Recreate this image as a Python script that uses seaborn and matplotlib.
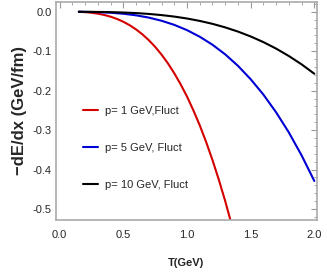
import pandas as pd
import matplotlib.pyplot as plt
import seaborn as sns
from matplotlib.ticker import MultipleLocator, FormatStrFormatter

# temperature grid (GeV) and energy loss for each momentum
T_red = [0.15, 0.2, 0.25, 0.3, 0.35, 0.4, 0.45, 0.5, 0.55, 0.6, 0.65, 0.7,
         0.75, 0.8, 0.85, 0.9, 0.95, 1.0, 1.05, 1.1, 1.15, 1.2, 1.25, 1.3,
         1.35, 1.4]
loss_p1 = [0.0, -0.001, -0.0025, -0.0048, -0.0081, -0.0125, -0.0182, -0.0254,
           -0.0342, -0.0448, -0.0574, -0.0721, -0.0891, -0.1087, -0.1309,
           -0.156, -0.184, -0.215, -0.250, -0.288, -0.330, -0.376, -0.426,
           -0.480, -0.539, -0.602]

T_all = [0.15, 0.2, 0.3, 0.4, 0.5, 0.6, 0.7, 0.8, 0.9, 1.0, 1.1, 1.2, 1.3,
         1.4, 1.5, 1.6, 1.7, 1.8, 1.9, 2.0]
loss_p5 = [0.0, -0.0003, -0.0009, -0.0024, -0.005, -0.009, -0.0148, -0.0228,
           -0.0332, -0.0466, -0.0633, -0.0836, -0.108, -0.137, -0.171, -0.210,
           -0.255, -0.306, -0.364, -0.429]
loss_p10 = [0.0, -0.0001, -0.0004, -0.0009, -0.0019, -0.0033, -0.0055, -0.0084,
            -0.0122, -0.0171, -0.0232, -0.0306, -0.0396, -0.0502, -0.0626,
            -0.0769, -0.0934, -0.1122, -0.1333, -0.1571]

labels = ["p= 1 GeV,Fluct", "p= 5 GeV, Fluct", "p= 10 GeV, Fluct"]
colors = ["#d40000", "#0000d4", "#000000"]

sns.set_style("white")
plt.rcParams['font.family'] = ['Liberation Sans', 'DejaVu Sans']

fig = plt.figure(figsize=(3.27, 2.73), dpi=100)
ax = fig.add_axes([0.171, 0.194, 0.798, 0.799])

sns.lineplot(x=T_red, y=loss_p1, color=colors[0], lw=1.5, label=labels[0], ax=ax)
sns.lineplot(x=T_all, y=loss_p5, color=colors[1], lw=1.5, label=labels[1], ax=ax)
sns.lineplot(x=T_all, y=loss_p10, color=colors[2], lw=1.5, label=labels[2], ax=ax)

ax.set_xlim(-0.03, 2.02)
ax.set_ylim(-0.528, 0.025)

# mathematica-like frame: gray, ticks inside on every side
for s in ax.spines.values():
    s.set_color("#aaaaaa")
    s.set_linewidth(1.2)
ax.xaxis.set_major_locator(MultipleLocator(0.5))
ax.xaxis.set_minor_locator(MultipleLocator(0.1))
ax.yaxis.set_major_locator(MultipleLocator(0.1))
ax.yaxis.set_minor_locator(MultipleLocator(0.02))
ax.xaxis.set_major_formatter(FormatStrFormatter("%.1f"))
ax.yaxis.set_major_formatter(FormatStrFormatter("%.1f"))
ax.tick_params(which="both", direction="in", top=True, right=True,
               color="#999999", labelsize=8)
ax.tick_params(axis="x", pad=7)
ax.tick_params(axis="y", pad=3)
ax.tick_params(which="major", length=4)
ax.tick_params(which="minor", length=2)

ax.set_xlabel("T(GeV)", fontsize=8, fontweight="bold", labelpad=13)
ax.set_ylabel("\u2212dE/dx (GeV/fm)", fontsize=12, fontweight="bold", labelpad=4)

ax.legend(loc="upper left", bbox_to_anchor=(0.065, 0.57), frameon=False,
          fontsize=8, handlelength=1.4, handletextpad=0.6, labelspacing=2.45)

plt.savefig("out.png", dpi=100)
